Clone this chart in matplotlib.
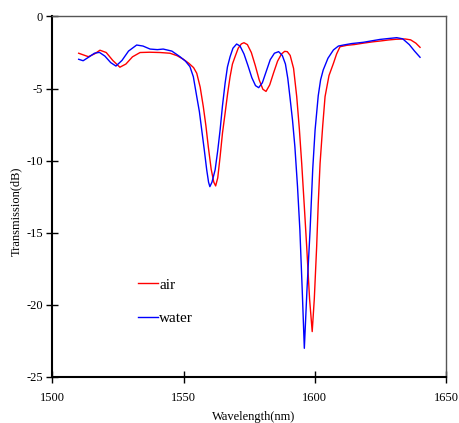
import matplotlib
matplotlib.use("Agg")
import matplotlib.pyplot as plt

# air (red)
air_wl = [1510.0, 1512.0, 1513.7, 1516.0, 1518.1, 1520.5, 1523.0, 1525.7, 1528.0, 1530.5,
          1533.4, 1537.0, 1541.0, 1544.8, 1547.5, 1549.9, 1552.0, 1553.8, 1555.0, 1556.3,
          1557.5, 1558.5, 1559.4, 1560.5, 1561.5, 1562.2, 1563.0, 1563.9, 1564.8, 1565.8,
          1566.8, 1567.7, 1568.6, 1569.6, 1570.8, 1572.0, 1573.0, 1574.3, 1575.8, 1577.3,
          1578.8, 1580.2, 1581.4, 1582.8, 1584.3, 1585.8, 1587.3, 1588.5, 1589.5, 1590.6,
          1591.9, 1593.1, 1594.1, 1595.0, 1596.0, 1596.9, 1598.0, 1599.0, 1599.8, 1600.7,
          1601.3, 1602.0, 1603.0, 1603.9, 1605.4, 1607.1, 1608.3, 1609.6, 1612.2, 1615.0,
          1618.5, 1622.0, 1625.0, 1628.0, 1631.0, 1634.4, 1636.5, 1638.5, 1640.1]
air_db = [-2.55, -2.68, -2.79, -2.60, -2.34, -2.50, -3.05, -3.52, -3.30, -2.80,
          -2.50, -2.48, -2.50, -2.55, -2.72, -2.97, -3.25, -3.55, -3.94, -4.90,
          -6.26, -7.60, -9.04, -10.60, -11.50, -11.76, -11.20, -9.73, -8.10, -6.72,
          -5.30, -4.18, -3.30, -2.79, -2.20, -1.90, -1.82, -1.95, -2.50, -3.40,
          -4.40, -5.05, -5.20, -4.75, -3.90, -3.10, -2.60, -2.42, -2.44, -2.70,
          -3.60, -5.56, -7.80, -10.20, -13.20, -15.97, -19.60, -21.87, -19.60, -15.97,
          -13.00, -10.20, -7.60, -5.56, -4.10, -3.25, -2.60, -2.10, -2.00, -1.95,
          -1.85, -1.76, -1.70, -1.63, -1.58, -1.56, -1.62, -1.85, -2.14]

# water (blue)
water_wl = [1510.0, 1511.7, 1514.0, 1516.0, 1517.9, 1520.0, 1522.2, 1524.2, 1526.5, 1529.0,
            1532.1, 1534.5, 1537.2, 1540.0, 1542.2, 1545.5, 1548.6, 1550.7, 1552.4, 1553.7,
            1555.0, 1556.0, 1556.9, 1557.9, 1558.8, 1559.5, 1560.0, 1560.8, 1562.0, 1563.0,
            1563.9, 1564.8, 1565.8, 1566.7, 1567.7, 1568.8, 1570.2, 1571.5, 1573.0, 1574.5,
            1576.0, 1577.4, 1578.6, 1580.0, 1581.5, 1583.0, 1584.6, 1586.2, 1587.6, 1588.8,
            1589.7, 1590.5, 1591.5, 1592.4, 1593.4, 1594.3, 1595.2, 1596.0, 1597.0, 1598.2,
            1599.2, 1600.1, 1601.3, 1602.2, 1603.2, 1605.0, 1607.1, 1609.0, 1610.9, 1614.0,
            1618.5, 1622.0, 1624.9, 1628.0, 1631.2, 1633.5, 1636.0, 1638.0, 1640.1]
water_db = [-2.97, -3.07, -2.80, -2.55, -2.49, -2.75, -3.20, -3.44, -3.05, -2.40,
            -1.98, -2.05, -2.26, -2.30, -2.26, -2.40, -2.79, -3.10, -3.48, -4.18,
            -5.56, -6.60, -7.88, -9.30, -10.65, -11.50, -11.81, -11.50, -10.65, -9.30,
            -7.88, -6.20, -4.64, -3.50, -2.79, -2.20, -1.91, -2.05, -2.60, -3.40,
            -4.25, -4.80, -4.94, -4.60, -3.80, -3.00, -2.55, -2.44, -2.70, -3.30,
            -4.30, -5.56, -7.20, -9.04, -11.80, -14.80, -19.00, -23.03, -19.00, -14.80,
            -10.60, -7.88, -5.50, -4.40, -3.71, -2.90, -2.32, -2.05, -1.98, -1.88,
            -1.79, -1.68, -1.59, -1.53, -1.47, -1.55, -1.95, -2.40, -2.83]

x_ticks = [1500, 1550, 1600, 1650]
y_ticks = [0, -5, -10, -15, -20, -25]

plt.rcParams["font.family"] = ["Liberation Serif", "DejaVu Serif"]
plt.rcParams["axes.unicode_minus"] = False

fig = plt.figure(figsize=(4.6, 4.23), dpi=100)
ax = fig.add_axes([0.114, 0.1095, 0.8556, 0.8515])

ax.plot(air_wl, air_db, color="red", lw=1.0, label="air")
ax.plot(water_wl, water_db, color="blue", lw=1.0, label="water")

ax.set_xlim(1500, 1650)
ax.set_ylim(-25, 0)
ax.set_xticks(x_ticks)
ax.set_yticks(y_ticks)
ax.tick_params(direction="inout", length=8, width=1.0, labelsize=9)
ax.tick_params(axis="x", pad=7)
ax.tick_params(axis="y", pad=3)

for side in ["left", "bottom"]:
    ax.spines[side].set_linewidth(1.5)
    ax.spines[side].set_color("black")
for side in ["top", "right"]:
    ax.spines[side].set_linewidth(1.0)
    ax.spines[side].set_color("#555555")

ax.set_xlabel("Wavelength(nm)", fontsize=9)
ax.xaxis.set_label_coords(0.51, -0.095)
ax.set_ylabel("Transmission(dB)", fontsize=9)
ax.yaxis.set_label_coords(-0.076, 0.46)

ax.legend(loc="upper left", bbox_to_anchor=(0.198, 0.295), frameon=False, fontsize=11,
          handlelength=1.3, handletextpad=0.1, labelspacing=1.3, borderpad=0)

fig.savefig("out.png", dpi=100)
